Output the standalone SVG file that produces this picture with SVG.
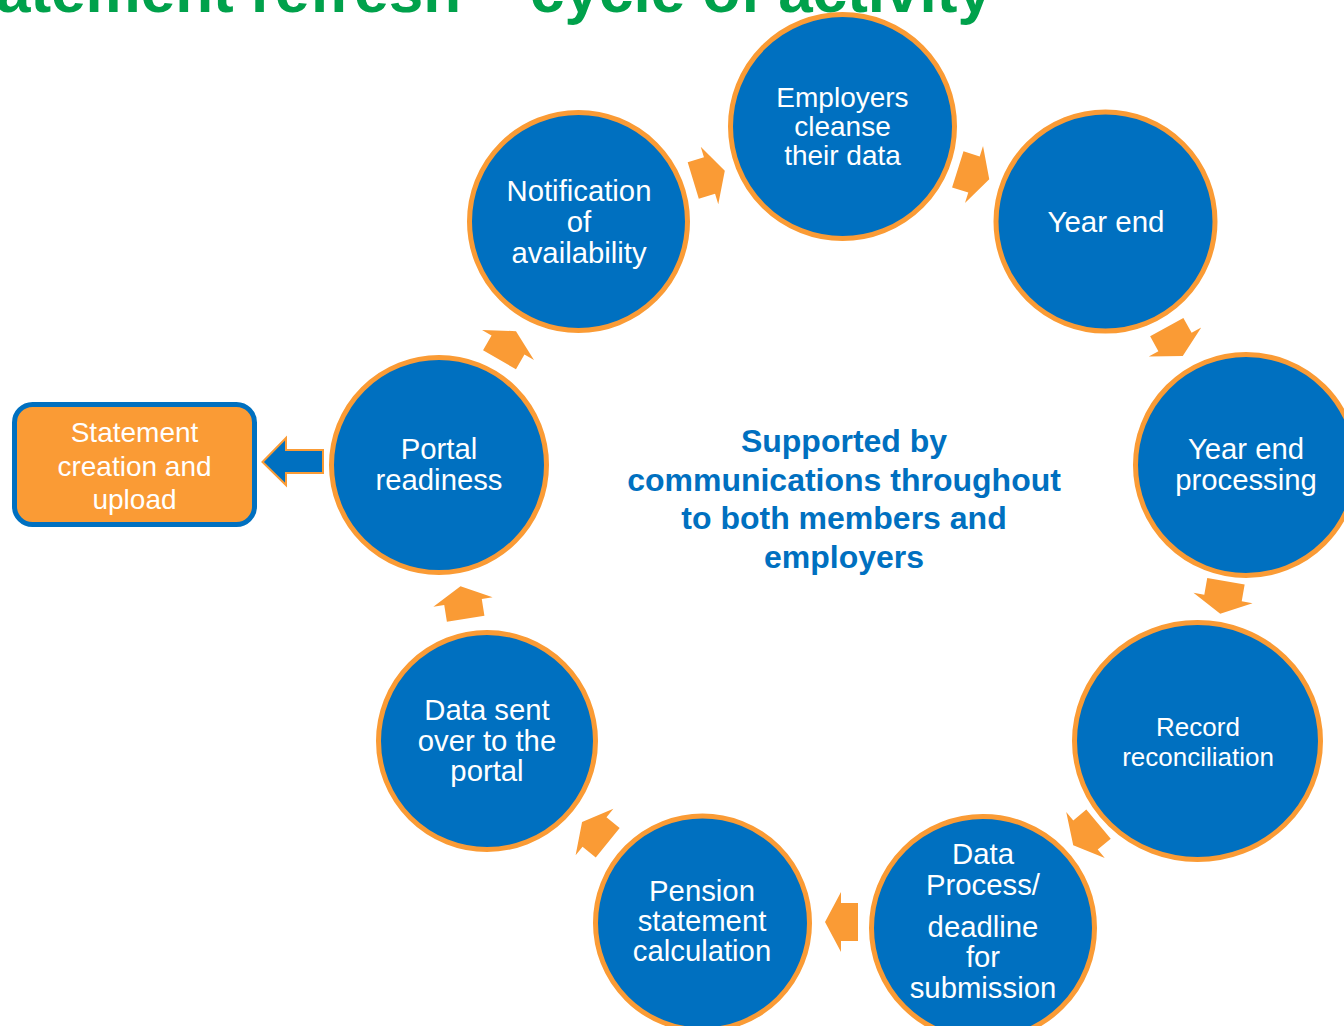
<svg xmlns="http://www.w3.org/2000/svg" width="1344" height="1026" viewBox="0 0 1344 1026">
  <defs>
    <style>
      .bg { fill: #ffffff; }
      .title { font-family: "Liberation Sans", Arial, sans-serif; font-weight: bold; font-size: 62px; fill: #00A14B; }
      .stage { fill: #0070C0; stroke: #FA9B35; stroke-width: 5; }
      .lbl { font-family: "Liberation Sans", Arial, sans-serif; font-size: 29.3px; fill: #ffffff; text-anchor: middle; }
      .centre { font-family: "Liberation Sans", Arial, sans-serif; font-weight: bold; font-size: 32px; fill: #0070C0; text-anchor: middle; }
      .step { fill: #FA9B35; }
      .box { fill: #FA9B35; stroke: #0070C0; stroke-width: 5; }
      .out { fill: #0070C0; stroke: #FA9B35; stroke-width: 2; }
    </style>
    <!-- block arrow pointing along +x, origin at the middle of the head's base -->
    <polygon id="step-arrow" points="16,0 0,-30 0,-19 -17,-19 -17,19 0,19 0,30"/>
  </defs>

  <rect class="bg" x="0" y="0" width="1344" height="1026"/>

  <text class="title" x="-4" y="11.5">atement refresh – cycle of activity</text>

  <!-- cycle connectors -->
  <g id="connectors">
    <use href="#step-arrow" class="step" transform="translate(709.5,175.5) rotate(-17)"/>
    <use href="#step-arrow" class="step" transform="translate(974,174.5) rotate(17.5)"/>
    <use href="#step-arrow" class="step" transform="translate(1175,342) rotate(61)"/>
    <use href="#step-arrow" class="step" transform="translate(1223,598) rotate(100)"/>
    <use href="#step-arrow" class="step" transform="translate(1085.5,835) rotate(140)"/>
    <use href="#step-arrow" class="step" transform="translate(841,922) rotate(180)"/>
    <use href="#step-arrow" class="step" transform="translate(594.5,832) rotate(-141)"/>
    <use href="#step-arrow" class="step" transform="translate(463,602) rotate(-99)"/>
    <use href="#step-arrow" class="step" transform="translate(508,345) rotate(-60)"/>
    <!-- output arrow to the statement box -->
    <polygon class="out" points="262.5,462 286,438 286,450 323,450 323,473 286,473 286,485"/>
  </g>

  <g id="employers-cleanse">
    <circle class="stage" cx="842.5" cy="126.5" r="112"/>
    <text class="lbl" x="842.5" y="107" style="font-size:28px">Employers</text>
    <text class="lbl" x="842.5" y="136" style="font-size:28px">cleanse</text>
    <text class="lbl" x="842.5" y="165" style="font-size:28px">their data</text>
  </g>

  <g id="year-end">
    <circle class="stage" cx="1105.5" cy="221.5" r="109.5"/>
    <text class="lbl" x="1106" y="232" style="font-size:29.5px">Year end</text>
  </g>

  <g id="year-end-processing">
    <circle class="stage" cx="1246" cy="465" r="110.5"/>
    <text class="lbl" x="1246" y="459">Year end</text>
    <text class="lbl" x="1246" y="490">processing</text>
  </g>

  <g id="record-reconciliation">
    <ellipse class="stage" cx="1197.5" cy="741" rx="123" ry="118.5"/>
    <text class="lbl" x="1198" y="736" style="font-size:26px">Record</text>
    <text class="lbl" x="1198" y="766" style="font-size:26px">reconciliation</text>
  </g>

  <g id="data-process">
    <circle class="stage" cx="983" cy="928" r="111.5"/>
    <text class="lbl" x="983" y="864">Data</text>
    <text class="lbl" x="983" y="895">Process/</text>
    <text class="lbl" x="983" y="937">deadline</text>
    <text class="lbl" x="983" y="967">for</text>
    <text class="lbl" x="983" y="998">submission</text>
  </g>

  <g id="pension-calculation">
    <circle class="stage" cx="702.5" cy="923" r="107"/>
    <text class="lbl" x="702" y="901">Pension</text>
    <text class="lbl" x="702" y="931">statement</text>
    <text class="lbl" x="702" y="961">calculation</text>
  </g>

  <g id="data-sent">
    <circle class="stage" cx="487" cy="741" r="108.5"/>
    <text class="lbl" x="487" y="720">Data sent</text>
    <text class="lbl" x="487" y="751">over to the</text>
    <text class="lbl" x="487" y="781">portal</text>
  </g>

  <g id="portal-readiness">
    <circle class="stage" cx="439" cy="465" r="107.5"/>
    <text class="lbl" x="439" y="459">Portal</text>
    <text class="lbl" x="439" y="490">readiness</text>
  </g>

  <g id="notification">
    <circle class="stage" cx="578.5" cy="221.5" r="109"/>
    <text class="lbl" x="579" y="201">Notification</text>
    <text class="lbl" x="579" y="232">of</text>
    <text class="lbl" x="579" y="263">availability</text>
  </g>

  <g id="statement-creation">
    <rect class="box" x="14.5" y="404.5" width="240" height="120" rx="18"/>
    <text class="lbl" x="134.5" y="442" style="font-size:28px">Statement</text>
    <text class="lbl" x="134.5" y="476" style="font-size:28px">creation and</text>
    <text class="lbl" x="134.5" y="509" style="font-size:28px">upload</text>
  </g>

  <g id="support-note">
    <text class="centre" x="844" y="452">Supported by</text>
    <text class="centre" x="844" y="491">communications throughout</text>
    <text class="centre" x="844" y="529">to both members and</text>
    <text class="centre" x="844" y="568">employers</text>
  </g>
</svg>
